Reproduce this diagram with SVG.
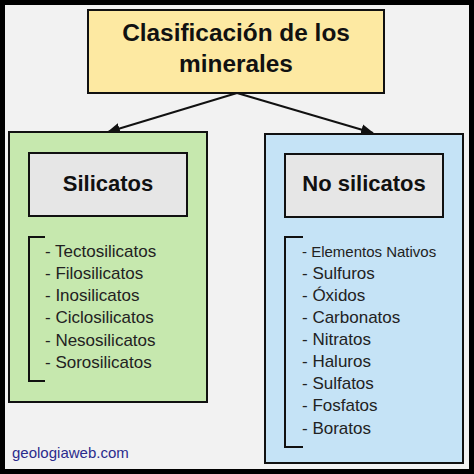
<svg xmlns="http://www.w3.org/2000/svg" width="474" height="474" viewBox="0 0 474 474">
<style>
.box{stroke:#111;stroke-width:2}
.title{font-family:"Liberation Sans",Arial,sans-serif;font-weight:bold;fill:#111}
.item{font-family:"Liberation Sans",Arial,sans-serif;font-size:17px;fill:#222}
.br{fill:none;stroke:#111;stroke-width:2}
.conn{stroke:#111;stroke-width:2;fill:none}
</style>
<defs>
<marker id="ah" viewBox="0 0 12 10" refX="11" refY="5" markerWidth="13" markerHeight="11" orient="auto" markerUnits="userSpaceOnUse">
<path d="M0,0 L12,5 L0,10 z" fill="#111"/>
</marker>
</defs>
<rect x="2.5" y="2.5" width="469" height="469" fill="#f2f2f2" stroke="#000" stroke-width="5"/>
<g id="connectors">
<line class="conn" x1="237" y1="93" x2="108" y2="132" marker-end="url(#ah)"/>
<line class="conn" x1="237" y1="93" x2="373" y2="133" marker-end="url(#ah)"/>
</g>
<g id="title">
<rect class="box" x="88" y="10" width="296" height="83" fill="#fde9a2"/>
<text class="title" x="236" y="41" font-size="24.4" text-anchor="middle">Clasificación de los</text>
<text class="title" x="236" y="72" font-size="24.4" text-anchor="middle">minerales</text>
</g>
<g id="silicatos">
<rect class="box" x="9" y="132" width="198" height="270" fill="#c6e8ae"/>
<rect class="box" x="29" y="153" width="158" height="63" fill="#e6e6e6"/>
<text class="title" x="108" y="191" font-size="22" text-anchor="middle">Silicatos</text>
<path class="br" d="M45,237 H29 V381 H45"/>
<text class="item" x="45" y="257">- Tectosilicatos</text>
<text class="item" x="45" y="279">- Filosilicatos</text>
<text class="item" x="45" y="301">- Inosilicatos</text>
<text class="item" x="45" y="323">- Ciclosilicatos</text>
<text class="item" x="45" y="346">- Nesosilicatos</text>
<text class="item" x="45" y="368">- Sorosilicatos</text>
</g>
<g id="nosilicatos">
<rect class="box" x="265" y="134" width="198" height="329" fill="#c5e3f6"/>
<rect class="box" x="285" y="154" width="158" height="63" fill="#e6e6e6"/>
<text class="title" x="364" y="191" font-size="22" text-anchor="middle">No silicatos</text>
<path class="br" d="M303,237 H285 V447 H303"/>
<text class="item" x="302" y="257" style="font-size:15px">- Elementos Nativos</text>
<text class="item" x="302" y="279">- Sulfuros</text>
<text class="item" x="302" y="301">- Óxidos</text>
<text class="item" x="302" y="323">- Carbonatos</text>
<text class="item" x="302" y="345">- Nitratos</text>
<text class="item" x="302" y="367">- Haluros</text>
<text class="item" x="302" y="389">- Sulfatos</text>
<text class="item" x="302" y="411">- Fosfatos</text>
<text class="item" x="302" y="434">- Boratos</text>
</g>
<text x="12" y="458" font-family="Liberation Sans,Arial,sans-serif" font-size="15" fill="#2b2b8c">geologiaweb.com</text>
</svg>
